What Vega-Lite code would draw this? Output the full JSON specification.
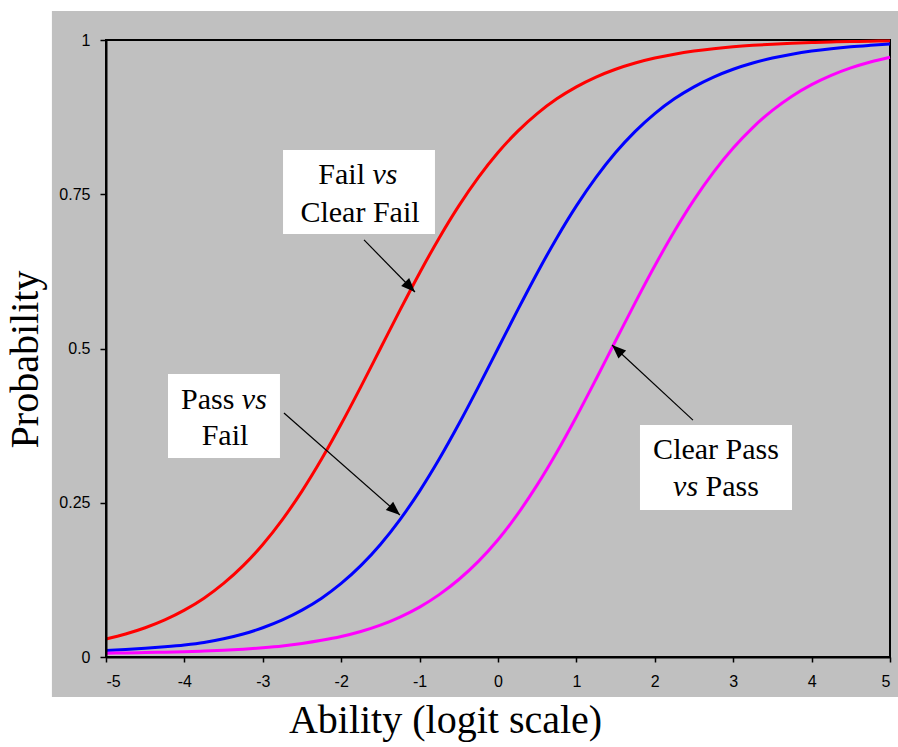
{
  "$schema": "https://vega.github.io/schema/vega-lite/v6.json",
  "width": 784,
  "height": 617,
  "autosize": {"type": "none"},
  "padding": {"left": 106, "top": 40, "right": 8, "bottom": 90},
  "background": "white",
  "config": {
    "view": {"stroke": null},
    "axis": {
      "grid": false,
      "domainColor": "black",
      "domainWidth": 2,
      "tickColor": "black",
      "tickWidth": 1.5,
      "labelFont": "Liberation Sans",
      "labelFontSize": 16,
      "labelColor": "black",
      "titleFont": "Liberation Serif",
      "titleFontSize": 40,
      "titleFontWeight": "normal",
      "titleColor": "black"
    },
    "axisX": {"tickSize": 5, "labelPadding": 11, "titleX": 339, "titleY": 75, "titleAlign": "center", "titleBaseline": "alphabetic", "titleAngle": 0},
    "axisY": {"tickSize": 6, "labelPadding": 10, "titleX": -69, "titleY": 319, "titleAlign": "center", "titleBaseline": "alphabetic", "titleAngle": -90}
  },
  "datasets": {
    "panel": [{"x0": -5.69, "x1": 5.3, "y0": -0.065, "y1": 1.047}],
    "frame": [{"x0": -5, "x1": 5, "y0": 0, "y1": 1}],
    "curves": [
      {"curve": "Fail vs Clear Fail", "x": -5, "p": 0.0293},
      {"curve": "Fail vs Clear Fail", "x": -4.75, "p": 0.0373},
      {"curve": "Fail vs Clear Fail", "x": -4.5, "p": 0.0474},
      {"curve": "Fail vs Clear Fail", "x": -4.25, "p": 0.0601},
      {"curve": "Fail vs Clear Fail", "x": -4, "p": 0.0759},
      {"curve": "Fail vs Clear Fail", "x": -3.75, "p": 0.0953},
      {"curve": "Fail vs Clear Fail", "x": -3.5, "p": 0.1192},
      {"curve": "Fail vs Clear Fail", "x": -3.25, "p": 0.148},
      {"curve": "Fail vs Clear Fail", "x": -3, "p": 0.1824},
      {"curve": "Fail vs Clear Fail", "x": -2.75, "p": 0.2227},
      {"curve": "Fail vs Clear Fail", "x": -2.5, "p": 0.2689},
      {"curve": "Fail vs Clear Fail", "x": -2.25, "p": 0.3208},
      {"curve": "Fail vs Clear Fail", "x": -2, "p": 0.3775},
      {"curve": "Fail vs Clear Fail", "x": -1.75, "p": 0.4378},
      {"curve": "Fail vs Clear Fail", "x": -1.5, "p": 0.5},
      {"curve": "Fail vs Clear Fail", "x": -1.25, "p": 0.5622},
      {"curve": "Fail vs Clear Fail", "x": -1, "p": 0.6225},
      {"curve": "Fail vs Clear Fail", "x": -0.75, "p": 0.6792},
      {"curve": "Fail vs Clear Fail", "x": -0.5, "p": 0.7311},
      {"curve": "Fail vs Clear Fail", "x": -0.25, "p": 0.7773},
      {"curve": "Fail vs Clear Fail", "x": 0, "p": 0.8176},
      {"curve": "Fail vs Clear Fail", "x": 0.25, "p": 0.852},
      {"curve": "Fail vs Clear Fail", "x": 0.5, "p": 0.8808},
      {"curve": "Fail vs Clear Fail", "x": 0.75, "p": 0.9047},
      {"curve": "Fail vs Clear Fail", "x": 1, "p": 0.9241},
      {"curve": "Fail vs Clear Fail", "x": 1.25, "p": 0.9399},
      {"curve": "Fail vs Clear Fail", "x": 1.5, "p": 0.9526},
      {"curve": "Fail vs Clear Fail", "x": 1.75, "p": 0.9627},
      {"curve": "Fail vs Clear Fail", "x": 2, "p": 0.9707},
      {"curve": "Fail vs Clear Fail", "x": 2.25, "p": 0.977},
      {"curve": "Fail vs Clear Fail", "x": 2.5, "p": 0.982},
      {"curve": "Fail vs Clear Fail", "x": 2.75, "p": 0.9859},
      {"curve": "Fail vs Clear Fail", "x": 3, "p": 0.989},
      {"curve": "Fail vs Clear Fail", "x": 3.25, "p": 0.9914},
      {"curve": "Fail vs Clear Fail", "x": 3.5, "p": 0.9933},
      {"curve": "Fail vs Clear Fail", "x": 3.75, "p": 0.9948},
      {"curve": "Fail vs Clear Fail", "x": 4, "p": 0.9959},
      {"curve": "Fail vs Clear Fail", "x": 4.25, "p": 0.9968},
      {"curve": "Fail vs Clear Fail", "x": 4.5, "p": 0.9975},
      {"curve": "Fail vs Clear Fail", "x": 4.75, "p": 0.9981},
      {"curve": "Fail vs Clear Fail", "x": 5, "p": 0.9985},
      {"curve": "Pass vs Fail", "x": -5, "p": 0.0105},
      {"curve": "Pass vs Fail", "x": -4.75, "p": 0.012},
      {"curve": "Pass vs Fail", "x": -4.5, "p": 0.014},
      {"curve": "Pass vs Fail", "x": -4.25, "p": 0.0165},
      {"curve": "Pass vs Fail", "x": -4, "p": 0.0195},
      {"curve": "Pass vs Fail", "x": -3.75, "p": 0.0235},
      {"curve": "Pass vs Fail", "x": -3.5, "p": 0.0295},
      {"curve": "Pass vs Fail", "x": -3.25, "p": 0.0373},
      {"curve": "Pass vs Fail", "x": -3, "p": 0.0474},
      {"curve": "Pass vs Fail", "x": -2.75, "p": 0.0601},
      {"curve": "Pass vs Fail", "x": -2.5, "p": 0.0759},
      {"curve": "Pass vs Fail", "x": -2.25, "p": 0.0953},
      {"curve": "Pass vs Fail", "x": -2, "p": 0.1192},
      {"curve": "Pass vs Fail", "x": -1.75, "p": 0.148},
      {"curve": "Pass vs Fail", "x": -1.5, "p": 0.1824},
      {"curve": "Pass vs Fail", "x": -1.25, "p": 0.2227},
      {"curve": "Pass vs Fail", "x": -1, "p": 0.2689},
      {"curve": "Pass vs Fail", "x": -0.75, "p": 0.3208},
      {"curve": "Pass vs Fail", "x": -0.5, "p": 0.3775},
      {"curve": "Pass vs Fail", "x": -0.25, "p": 0.4378},
      {"curve": "Pass vs Fail", "x": 0, "p": 0.5},
      {"curve": "Pass vs Fail", "x": 0.25, "p": 0.5622},
      {"curve": "Pass vs Fail", "x": 0.5, "p": 0.6225},
      {"curve": "Pass vs Fail", "x": 0.75, "p": 0.6792},
      {"curve": "Pass vs Fail", "x": 1, "p": 0.7311},
      {"curve": "Pass vs Fail", "x": 1.25, "p": 0.7773},
      {"curve": "Pass vs Fail", "x": 1.5, "p": 0.8176},
      {"curve": "Pass vs Fail", "x": 1.75, "p": 0.852},
      {"curve": "Pass vs Fail", "x": 2, "p": 0.8808},
      {"curve": "Pass vs Fail", "x": 2.25, "p": 0.9047},
      {"curve": "Pass vs Fail", "x": 2.5, "p": 0.9241},
      {"curve": "Pass vs Fail", "x": 2.75, "p": 0.9399},
      {"curve": "Pass vs Fail", "x": 3, "p": 0.9526},
      {"curve": "Pass vs Fail", "x": 3.25, "p": 0.9627},
      {"curve": "Pass vs Fail", "x": 3.5, "p": 0.9707},
      {"curve": "Pass vs Fail", "x": 3.75, "p": 0.977},
      {"curve": "Pass vs Fail", "x": 4, "p": 0.982},
      {"curve": "Pass vs Fail", "x": 4.25, "p": 0.9859},
      {"curve": "Pass vs Fail", "x": 4.5, "p": 0.989},
      {"curve": "Pass vs Fail", "x": 4.75, "p": 0.9914},
      {"curve": "Pass vs Fail", "x": 5, "p": 0.9935},
      {"curve": "Clear Pass vs Pass", "x": -5, "p": 0.0061},
      {"curve": "Clear Pass vs Pass", "x": -4.75, "p": 0.0066},
      {"curve": "Clear Pass vs Pass", "x": -4.5, "p": 0.0071},
      {"curve": "Clear Pass vs Pass", "x": -4.25, "p": 0.0078},
      {"curve": "Clear Pass vs Pass", "x": -4, "p": 0.0086},
      {"curve": "Clear Pass vs Pass", "x": -3.75, "p": 0.0097},
      {"curve": "Clear Pass vs Pass", "x": -3.5, "p": 0.011},
      {"curve": "Clear Pass vs Pass", "x": -3.25, "p": 0.0127},
      {"curve": "Clear Pass vs Pass", "x": -3, "p": 0.015},
      {"curve": "Clear Pass vs Pass", "x": -2.75, "p": 0.0179},
      {"curve": "Clear Pass vs Pass", "x": -2.5, "p": 0.0219},
      {"curve": "Clear Pass vs Pass", "x": -2.25, "p": 0.027},
      {"curve": "Clear Pass vs Pass", "x": -2, "p": 0.0333},
      {"curve": "Clear Pass vs Pass", "x": -1.75, "p": 0.0414},
      {"curve": "Clear Pass vs Pass", "x": -1.5, "p": 0.0517},
      {"curve": "Clear Pass vs Pass", "x": -1.25, "p": 0.0648},
      {"curve": "Clear Pass vs Pass", "x": -1, "p": 0.0809},
      {"curve": "Clear Pass vs Pass", "x": -0.75, "p": 0.1011},
      {"curve": "Clear Pass vs Pass", "x": -0.5, "p": 0.1256},
      {"curve": "Clear Pass vs Pass", "x": -0.25, "p": 0.155},
      {"curve": "Clear Pass vs Pass", "x": 0, "p": 0.19},
      {"curve": "Clear Pass vs Pass", "x": 0.25, "p": 0.2315},
      {"curve": "Clear Pass vs Pass", "x": 0.5, "p": 0.2789},
      {"curve": "Clear Pass vs Pass", "x": 0.75, "p": 0.3318},
      {"curve": "Clear Pass vs Pass", "x": 1, "p": 0.3894},
      {"curve": "Clear Pass vs Pass", "x": 1.25, "p": 0.4502},
      {"curve": "Clear Pass vs Pass", "x": 1.5, "p": 0.5125},
      {"curve": "Clear Pass vs Pass", "x": 1.75, "p": 0.5744},
      {"curve": "Clear Pass vs Pass", "x": 2, "p": 0.6341},
      {"curve": "Clear Pass vs Pass", "x": 2.25, "p": 0.69},
      {"curve": "Clear Pass vs Pass", "x": 2.5, "p": 0.7408},
      {"curve": "Clear Pass vs Pass", "x": 2.75, "p": 0.7858},
      {"curve": "Clear Pass vs Pass", "x": 3, "p": 0.8249},
      {"curve": "Clear Pass vs Pass", "x": 3.25, "p": 0.8581},
      {"curve": "Clear Pass vs Pass", "x": 3.5, "p": 0.886},
      {"curve": "Clear Pass vs Pass", "x": 3.75, "p": 0.9089},
      {"curve": "Clear Pass vs Pass", "x": 4, "p": 0.9276},
      {"curve": "Clear Pass vs Pass", "x": 4.25, "p": 0.9427},
      {"curve": "Clear Pass vs Pass", "x": 4.5, "p": 0.9548},
      {"curve": "Clear Pass vs Pass", "x": 4.75, "p": 0.9644},
      {"curve": "Clear Pass vs Pass", "x": 5, "p": 0.9721}
    ],
    "boxes": [
      {"x0": -2.742, "x1": -0.804, "y0": 0.6856, "y1": 0.8217},
      {"x0": -4.209, "x1": -2.781, "y0": 0.3225, "y1": 0.4587},
      {"x0": 1.811, "x1": 3.75, "y0": 0.2383, "y1": 0.376}
    ],
    "arrows": [
      {"id": 1, "x": -1.709, "y": 0.676, "xt": -1.059, "yt": 0.5916},
      {"id": 2, "x": -2.73, "y": 0.3955, "xt": -1.25, "yt": 0.23},
      {"id": 3, "x": 2.487, "y": 0.384, "xt": 1.454, "yt": 0.5057}
    ],
    "labels": [
      {"t": "Fail", "x": -1.696, "y": 0.7666, "g": "nr"},
      {"t": "vs", "x": -1.601, "y": 0.7666, "g": "il"},
      {"t": "Clear Fail", "x": -1.76, "y": 0.705, "g": "nc"},
      {"t": "Pass", "x": -3.362, "y": 0.402, "g": "nr"},
      {"t": "vs", "x": -3.267, "y": 0.402, "g": "il"},
      {"t": "Fail", "x": -3.482, "y": 0.3436, "g": "nc"},
      {"t": "Clear Pass", "x": 2.781, "y": 0.3209, "g": "nc"},
      {"t": "vs", "x": 2.552, "y": 0.261, "g": "ir"},
      {"t": "Pass", "x": 2.648, "y": 0.261, "g": "nl"}
    ]
  },
  "layer": [
    {
      "data": {"name": "panel"},
      "mark": {"type": "rect", "fill": "#c0c0c0", "stroke": null},
      "encoding": {
        "x": {"field": "x0", "type": "quantitative", "scale": {"domain": [-5, 5], "nice": false, "zero": false}, "title": "Ability (logit scale)", "axis": {"values": [-5, -4, -3, -2, -1, 0, 1, 2, 3, 4, 5], "labelExpr": "datum.value < 0 ? '-' + abs(datum.value) : '' + datum.value", "zindex": 2}},
        "x2": {"field": "x1"},
        "y": {"field": "y0", "type": "quantitative", "scale": {"domain": [0, 1], "nice": false, "zero": false}, "title": "Probability", "axis": {"values": [0, 0.25, 0.5, 0.75, 1], "format": "~g", "zindex": 2}},
        "y2": {"field": "y1"}
      }
    },
    {
      "data": {"name": "frame"},
      "mark": {"type": "rect", "fill": null, "stroke": "black", "strokeWidth": 2},
      "encoding": {
        "x": {"field": "x0", "type": "quantitative", "title": "Ability (logit scale)", "axis": {"values": [-5, -4, -3, -2, -1, 0, 1, 2, 3, 4, 5], "labelExpr": "datum.value < 0 ? '-' + abs(datum.value) : '' + datum.value", "zindex": 2}},
        "x2": {"field": "x1"},
        "y": {"field": "y0", "type": "quantitative", "title": "Probability", "axis": {"values": [0, 0.25, 0.5, 0.75, 1], "format": "~g", "zindex": 2}},
        "y2": {"field": "y1"}
      }
    },
    {
      "data": {"name": "curves"},
      "mark": {"type": "line", "strokeWidth": 3, "interpolate": "monotone"},
      "encoding": {
        "x": {"field": "x", "type": "quantitative", "title": "Ability (logit scale)", "axis": {"values": [-5, -4, -3, -2, -1, 0, 1, 2, 3, 4, 5], "labelExpr": "datum.value < 0 ? '-' + abs(datum.value) : '' + datum.value", "zindex": 2}},
        "y": {"field": "p", "type": "quantitative", "title": "Probability", "axis": {"values": [0, 0.25, 0.5, 0.75, 1], "format": "~g", "zindex": 2}},
        "color": {"field": "curve", "type": "nominal", "legend": null, "scale": {"domain": ["Fail vs Clear Fail", "Pass vs Fail", "Clear Pass vs Pass"], "range": ["#ff0000", "#0000ff", "#ff00ff"]}}
      }
    },
    {
      "data": {"name": "boxes"},
      "mark": {"type": "rect", "fill": "white", "stroke": null},
      "encoding": {
        "x": {"field": "x0", "type": "quantitative", "title": "Ability (logit scale)"},
        "x2": {"field": "x1"},
        "y": {"field": "y0", "type": "quantitative", "title": "Probability"},
        "y2": {"field": "y1"}
      }
    },
    {
      "data": {"name": "arrows"},
      "mark": {"type": "rule", "color": "black", "strokeWidth": 1.2},
      "encoding": {
        "x": {"field": "x", "type": "quantitative", "title": "Ability (logit scale)"},
        "y": {"field": "y", "type": "quantitative", "title": "Probability"},
        "x2": {"field": "xt"},
        "y2": {"field": "yt"}
      }
    },
    {
      "data": {"name": "arrows"},
      "transform": [{"filter": "datum.id == 1"}],
      "mark": {"type": "point", "shape": "M0,0L-0.8,2L0.8,2Z", "size": 196, "filled": true, "color": "black", "opacity": 1, "angle": 135.6},
      "encoding": {
        "x": {"field": "xt", "type": "quantitative", "title": "Ability (logit scale)"},
        "y": {"field": "yt", "type": "quantitative", "title": "Probability"}
      }
    },
    {
      "data": {"name": "arrows"},
      "transform": [{"filter": "datum.id == 2"}],
      "mark": {"type": "point", "shape": "M0,0L-0.8,2L0.8,2Z", "size": 196, "filled": true, "color": "black", "opacity": 1, "angle": 131.3},
      "encoding": {
        "x": {"field": "xt", "type": "quantitative", "title": "Ability (logit scale)"},
        "y": {"field": "yt", "type": "quantitative", "title": "Probability"}
      }
    },
    {
      "data": {"name": "arrows"},
      "transform": [{"filter": "datum.id == 3"}],
      "mark": {"type": "point", "shape": "M0,0L-0.8,2L0.8,2Z", "size": 196, "filled": true, "color": "black", "opacity": 1, "angle": 312.8},
      "encoding": {
        "x": {"field": "xt", "type": "quantitative", "title": "Ability (logit scale)"},
        "y": {"field": "yt", "type": "quantitative", "title": "Probability"}
      }
    },
    {
      "data": {"name": "labels"},
      "transform": [{"filter": "datum.g == 'nc'"}],
      "mark": {"type": "text", "font": "Liberation Serif", "fontSize": 30, "color": "black", "align": "center", "baseline": "alphabetic"},
      "encoding": {
        "x": {"field": "x", "type": "quantitative", "title": "Ability (logit scale)"},
        "y": {"field": "y", "type": "quantitative", "title": "Probability"},
        "text": {"field": "t"}
      }
    },
    {
      "data": {"name": "labels"},
      "transform": [{"filter": "datum.g == 'nr'"}],
      "mark": {"type": "text", "font": "Liberation Serif", "fontSize": 30, "color": "black", "align": "right", "baseline": "alphabetic"},
      "encoding": {
        "x": {"field": "x", "type": "quantitative", "title": "Ability (logit scale)"},
        "y": {"field": "y", "type": "quantitative", "title": "Probability"},
        "text": {"field": "t"}
      }
    },
    {
      "data": {"name": "labels"},
      "transform": [{"filter": "datum.g == 'nl'"}],
      "mark": {"type": "text", "font": "Liberation Serif", "fontSize": 30, "color": "black", "align": "left", "baseline": "alphabetic"},
      "encoding": {
        "x": {"field": "x", "type": "quantitative", "title": "Ability (logit scale)"},
        "y": {"field": "y", "type": "quantitative", "title": "Probability"},
        "text": {"field": "t"}
      }
    },
    {
      "data": {"name": "labels"},
      "transform": [{"filter": "datum.g == 'il'"}],
      "mark": {"type": "text", "font": "Liberation Serif", "fontSize": 30, "fontStyle": "italic", "color": "black", "align": "left", "baseline": "alphabetic"},
      "encoding": {
        "x": {"field": "x", "type": "quantitative", "title": "Ability (logit scale)"},
        "y": {"field": "y", "type": "quantitative", "title": "Probability"},
        "text": {"field": "t"}
      }
    },
    {
      "data": {"name": "labels"},
      "transform": [{"filter": "datum.g == 'ir'"}],
      "mark": {"type": "text", "font": "Liberation Serif", "fontSize": 30, "fontStyle": "italic", "color": "black", "align": "right", "baseline": "alphabetic"},
      "encoding": {
        "x": {"field": "x", "type": "quantitative", "title": "Ability (logit scale)"},
        "y": {"field": "y", "type": "quantitative", "title": "Probability"},
        "text": {"field": "t"}
      }
    }
  ]
}
